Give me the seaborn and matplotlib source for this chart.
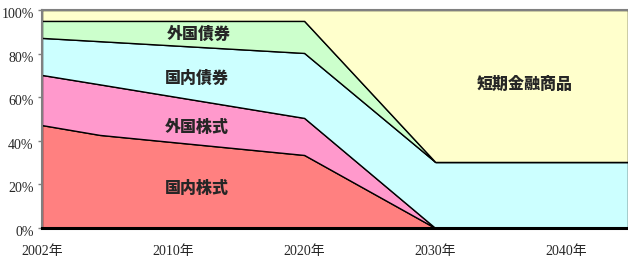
import matplotlib
matplotlib.use("Agg")
import matplotlib.pyplot as plt
import matplotlib.transforms as mtransforms
import seaborn as sns

# x positions along the category axis (one unit per label slot)
x_pos = [0, 0.44, 2, 3, 4.47]
x_labels = ["2002年", "2010年", "2020年", "2030年", "2040年"]

series_names = ["国内株式", "外国株式", "国内債券", "外国債券", "短期金融商品"]
domestic_stock = [47.2, 42.7, 33.5, 0, 0]
foreign_stock = [23.0, 23.2, 17.0, 0, 0]
domestic_bond = [17.0, 19.8, 29.8, 30.3, 30.3]
foreign_bond = [7.8, 9.3, 14.7, 0, 0]
short_term = [5.0, 5.0, 5.0, 69.7, 69.7]

colors = ["#FF8080", "#FF99CC", "#CCFFFF", "#CCFFCC", "#FFFFCC"]

sns.set_style("white")
plt.rcParams["font.family"] = ["Liberation Serif", "Noto Sans CJK JP"]

fig = plt.figure(figsize=(6.28, 2.59), dpi=100)
ax = fig.add_axes([42 / 628, 31 / 259, 586 / 628, 218 / 259])

ax.stackplot(x_pos, domestic_stock, foreign_stock, domestic_bond, foreign_bond, short_term,
             colors=colors, edgecolor="black", linewidth=1.0)

ax.set_xlim(x_pos[0], x_pos[-1])
ax.set_ylim(0, 100)
ax.set_yticks(range(0, 101, 20))
ax.set_yticklabels([f"{v}%" for v in range(0, 101, 20)])
ax.set_xticks(range(len(x_labels)))
ax.set_xticklabels(x_labels)
ax.tick_params(axis="y", left=True, length=3, width=1, color="#808080", pad=3, labelsize=10)
ax.tick_params(axis="x", bottom=False, length=0, pad=12, labelsize=10)

# y labels sit a little below their ticks in the original
shift = mtransforms.ScaledTranslation(0, -3 / 100, fig.dpi_scale_trans)
for lbl in ax.get_yticklabels():
    lbl.set_transform(lbl.get_transform() + shift)

for side in ["left", "top"]:
    ax.spines[side].set_color("#808080")
    ax.spines[side].set_linewidth(1.5)
ax.spines["bottom"].set_color("black")
ax.spines["bottom"].set_linewidth(2.2)
ax.spines["right"].set_visible(False)

# band labels
label_font = dict(fontsize=11.5, fontweight="black", family=["Noto Sans CJK JP"],
                  ha="center", va="center")
ax.text(1.2, 89.3, "外国債券", **label_font)
ax.text(1.18, 68.8, "国内債券", **label_font)
ax.text(1.18, 46.3, "外国株式", **label_font)
ax.text(1.18, 18.3, "国内株式", **label_font)
ax.text(3.68, 66.3, "短期金融商品", **label_font)

fig.savefig("out.png", dpi=100)
